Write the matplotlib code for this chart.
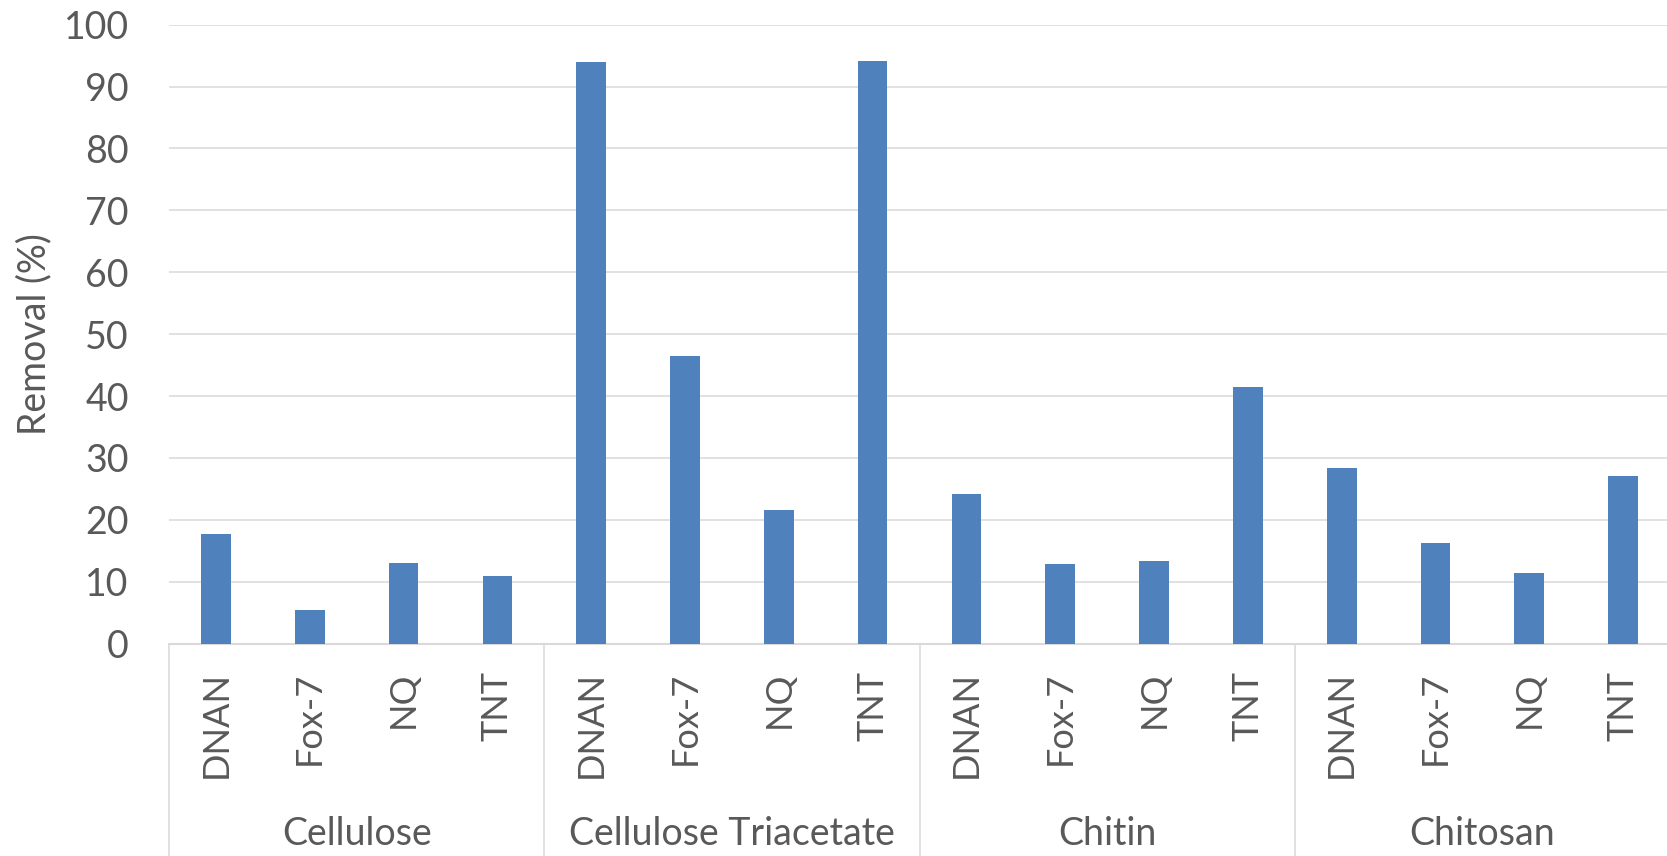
import numpy as np
import matplotlib.pyplot as plt
import matplotlib.transforms as mtransforms

plt.rcParams['font.family'] = ['Lato', 'DejaVu Sans']

materials = ['Cellulose', 'Cellulose Triacetate', 'Chitin', 'Chitosan']
compounds = ['DNAN', 'Fox-7', 'NQ', 'TNT']

cellulose = [17.7, 5.5, 13.0, 10.9]
cellulose_triacetate = [94.0, 46.5, 21.6, 94.1]
chitin = [24.2, 12.9, 13.3, 41.5]
chitosan = [28.3, 16.2, 11.4, 27.1]

TEXT = '#595959'
GRID = '#D9D9D9'
BAR = '#4F81BD'


def draw():
	removal = cellulose + cellulose_triacetate + chitin + chitosan
	labels = compounds * len(materials)
	pos = np.arange(len(removal))

	fig = plt.figure(figsize=(16.67, 8.56), dpi=100)
	ax = fig.add_axes([0.1014, 0.2482, 0.9004, 0.7229])

	ax.bar(pos, removal, width=0.317, color=BAR, zorder=3)

	ax.set_xlim(-0.5, len(removal) - 0.5)
	ax.set_ylim(0, 100)
	ax.set_yticks(np.arange(0, 101, 10))
	ax.yaxis.grid(True, color=GRID, linewidth=1.1, zorder=0)

	for side in ['top', 'right', 'left']:
		ax.spines[side].set_visible(False)
	ax.spines['bottom'].set_color(GRID)
	ax.spines['bottom'].set_linewidth(1.5)

	ax.tick_params(axis='y', length=0, pad=29, labelsize=27, labelcolor=TEXT)
	ax.set_xticks(pos, labels=labels, rotation=90)
	ax.tick_params(axis='x', length=0, pad=20, labelsize=26, labelcolor=TEXT)

	# second level of the category axis: group names and dividers
	trans = mtransforms.blended_transform_factory(ax.transData, ax.transAxes)
	n = len(compounds)
	for i, name in enumerate(materials):
		ax.text(i * n + (n - 1) / 2, -0.3256, name, transform=trans,
			ha='center', va='baseline', fontsize=27, color=TEXT)
	for x in np.arange(-0.5, len(removal), n):
		ax.plot([x, x], [0, -0.35], transform=trans, color=GRID,
			linewidth=1.1, clip_on=False)

	fig.text(34.5 / 1667, 1 - 334 / 856, 'Removal (%)', rotation=90,
		ha='center', va='center', fontsize=27, color=TEXT)

	fig.savefig('out.png', dpi=100)


draw()
